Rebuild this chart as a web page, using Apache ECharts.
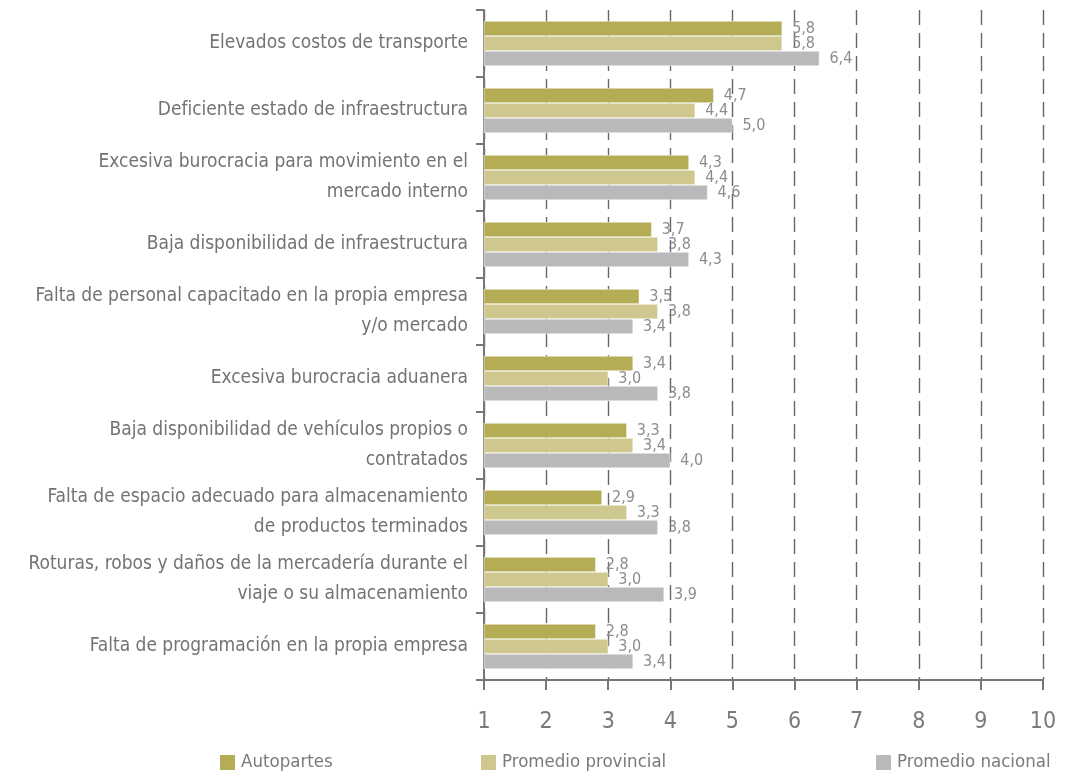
<!DOCTYPE html>
<html lang="es">
<head>
    <meta charset="UTF-8">
    <title>Problemas logísticos</title>
    <script src="https://cdn.jsdelivr.net/npm/echarts@6/dist/echarts.min.js"></script>
    <style>
        html, body { margin: 0; padding: 0; background: #fff; }
        #chart { width: 1067px; height: 777px; }
    </style>
</head>
<body>
<div id="chart"></div>
<script>
    // datos
    var categorias = [
        'Elevados costos de transporte',
        'Deficiente estado de infraestructura',
        'Excesiva burocracia para movimiento en el\nmercado interno',
        'Baja disponibilidad de infraestructura',
        'Falta de personal capacitado en la propia empresa\ny/o mercado',
        'Excesiva burocracia aduanera',
        'Baja disponibilidad de vehículos propios o\ncontratados',
        'Falta de espacio adecuado para almacenamiento\nde productos terminados',
        'Roturas, robos y daños de la mercadería durante el\nviaje o su almacenamiento',
        'Falta de programación en la propia empresa'
    ];
    var autopartes = [5.8, 4.7, 4.3, 3.7, 3.5, 3.4, 3.3, 2.9, 2.8, 2.8];
    var provincial = [5.8, 4.4, 4.4, 3.8, 3.8, 3.0, 3.4, 3.3, 3.0, 3.0];
    var nacional = [6.4, 5.0, 4.6, 4.3, 3.4, 3.8, 4.0, 3.8, 3.9, 3.4];
    var nombres = ['Autopartes', 'Promedio provincial', 'Promedio nacional'];
    var colores = ['#b5ac56', '#cfc88e', '#b9b9bb'];

    var fuente = '"Liberation Sans Narrow", "DejaVu Sans Condensed", "Roboto", sans-serif';

    function serie(nombre, datos, color) {
        return {
            name: nombre,
            type: 'bar',
            data: datos,
            barWidth: 15,
            barGap: '0%',
            itemStyle: { color: color, borderColor: '#fff', borderWidth: 0.5 },
            label: {
                show: true,
                position: 'right',
                distance: 10,
                color: '#8c8c8c',
                fontFamily: fuente,
                fontSize: 16,
                formatter: function (p) { return p.value.toFixed(1).replace('.', ','); }
            }
        };
    }

    function leyenda(nombre, izq) {
        return {
            data: [nombre],
            left: izq,
            bottom: 0,
            itemWidth: 17,
            itemHeight: 17,
            itemGap: 10,
            icon: 'rect',
            textStyle: { color: '#7a7a7a', fontFamily: fuente, fontSize: 18.5 }
        };
    }

    var myChart = echarts.init(document.getElementById('chart'));
    myChart.setOption({
        animation: false,
        color: colores,
        textStyle: { fontFamily: fuente },
        grid: { left: 484, right: 24, top: 10, bottom: 97 },
        legend: [
            leyenda(nombres[0], 213),
            leyenda(nombres[1], 474),
            leyenda(nombres[2], 869)
        ],
        xAxis: {
            type: 'value',
            min: 1,
            max: 10,
            interval: 1,
            axisLine: { show: true, lineStyle: { color: '#777', width: 2 } },
            axisTick: { show: true, length: 10, lineStyle: { color: '#777', width: 2 } },
            axisLabel: { color: '#7a7a7a', fontSize: 23, fontFamily: fuente, margin: 31 },
            splitLine: { show: true, lineStyle: { color: '#666', type: [15, 8], width: 1.4 } }
        },
        yAxis: {
            type: 'category',
            data: categorias,
            inverse: true,
            axisLine: { show: true, lineStyle: { color: '#777', width: 2 } },
            axisTick: { show: true, length: 8, lineStyle: { color: '#777', width: 2 } },
            axisLabel: {
                color: '#737373',
                fontSize: 19,
                fontFamily: fuente,
                lineHeight: 30,
                margin: 16,
                align: 'right'
            }
        },
        series: [
            serie(nombres[0], autopartes, colores[0]),
            serie(nombres[1], provincial, colores[1]),
            serie(nombres[2], nacional, colores[2])
        ]
    });
</script>
</body>
</html>
